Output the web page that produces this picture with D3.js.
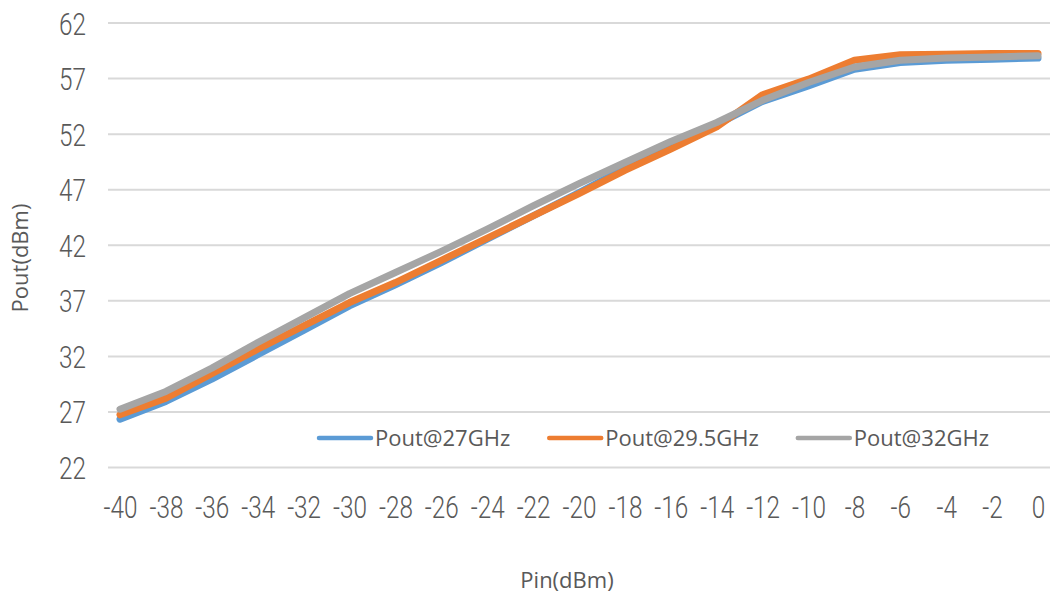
<!DOCTYPE html>
<html>
<head>
<meta charset="utf-8">
<script src="https://cdn.jsdelivr.net/npm/d3@7/dist/d3.min.js"></script>
<style>
  html, body { margin: 0; padding: 0; background: #ffffff; }
  svg { display: block; }
</style>
</head>
<body>
<svg id="chart" width="1052" height="596"></svg>
<script>
// Input power sweep (dBm)
const pinValues = [-40, -38, -36, -34, -32, -30, -28, -26, -24, -22, -20, -18, -16, -14, -12, -10, -8, -6, -4, -2, 0];

// Output power (dBm) at each frequency
const pout27 = [26.3, 27.9, 29.9, 32.1, 34.3, 36.5, 38.4, 40.4, 42.5, 44.6, 46.7, 48.9, 50.9, 52.8, 54.9, 56.3, 57.8, 58.4, 58.6, 58.7, 58.8];
const pout295 = [26.7, 28.2, 30.4, 32.6, 34.7, 36.8, 38.6, 40.6, 42.6, 44.6, 46.6, 48.7, 50.6, 52.6, 55.5, 56.9, 58.6, 59.1, 59.15, 59.2, 59.2];
const pout32 = [27.2, 28.8, 30.9, 33.2, 35.4, 37.6, 39.5, 41.4, 43.4, 45.5, 47.5, 49.4, 51.3, 53.0, 55.0, 56.6, 58.0, 58.6, 58.8, 58.9, 59.0];

const yTicks = [22, 27, 32, 37, 42, 47, 52, 57, 62];
const seriesNames = ["Pout@27GHz", "Pout@29.5GHz", "Pout@32GHz"];
const seriesColors = ["#5B9BD5", "#ED7D31", "#A5A5A5"];

const svg = d3.select("#chart");
const plotLeft = 108, plotRight = 1050;
const tickFont = "Roboto, 'Liberation Sans', Arial, sans-serif";
const narrow = 0.76;  // horizontal squeeze for the condensed tick numerals

const x = d3.scalePoint().domain(pinValues).range([120, 1038]);
const y = d3.scaleLinear().domain([22, 62]).range([467, 22.5]);

// Horizontal gridlines + value labels
const gy = svg.append("g")
  .attr("transform", `translate(${plotLeft},0)`)
  .call(d3.axisLeft(y).tickValues(yTicks).tickSize(-(plotRight - plotLeft)).tickFormat(d3.format("d")));
gy.select(".domain").remove();
gy.selectAll(".tick line").attr("stroke", "#d9d9d9").attr("stroke-width", 2);
gy.selectAll(".tick text")
  .attr("x", -22 / narrow)
  .attr("dy", "0.36em")
  .attr("transform", `scale(${narrow},1)`)
  .attr("fill", "#595959")
  .style("font-family", tickFont)
  .style("font-weight", 300)
  .style("font-size", "32px");

// Category labels along the bottom
const gx = svg.append("g")
  .attr("transform", `translate(0,467)`)
  .call(d3.axisBottom(x).tickSize(0).tickFormat(d => String(d)));
gx.select(".domain").remove();
gx.selectAll(".tick text")
  .attr("x", 0)
  .attr("y", 51)
  .attr("dy", 0)
  .attr("text-anchor", "middle")
  .attr("transform", `scale(${narrow},1)`)
  .attr("fill", "#595959")
  .style("font-family", tickFont)
  .style("font-weight", 300)
  .style("font-size", "32px");

// Series lines
const seriesData = [pout27, pout295, pout32];
const line = d3.line()
  .x((d, i) => x(pinValues[i]))
  .y(d => y(d));

svg.append("g").selectAll("path")
  .data(seriesData)
  .join("path")
  .attr("d", d => line(d))
  .attr("fill", "none")
  .attr("stroke", (d, i) => seriesColors[i])
  .attr("stroke-width", 7)
  .attr("stroke-linejoin", "round")
  .attr("stroke-linecap", "round");

// Legend
const legend = svg.append("g").attr("transform", "translate(317,438)");
let lx = 0;
seriesNames.forEach((name, i) => {
  const item = legend.append("g").attr("transform", `translate(${lx},0)`);
  item.append("line")
    .attr("x1", 2).attr("x2", 54).attr("y1", 0).attr("y2", 0)
    .attr("stroke", seriesColors[i]).attr("stroke-width", 4.5).attr("stroke-linecap", "round");
  const t = item.append("text")
    .attr("x", 58).attr("y", 0).attr("dy", "0.35em")
    .attr("fill", "#595959")
    .style("font-family", "'Open Sans', sans-serif")
    .style("font-size", "22px")
    .text(name);
  lx += 58 + t.node().getComputedTextLength() + 37;
});

// Axis titles
svg.append("text")
  .attr("x", 567).attr("y", 588)
  .attr("text-anchor", "middle")
  .attr("fill", "#595959")
  .style("font-family", "'Open Sans', sans-serif")
  .style("font-size", "22px")
  .text("Pin(dBm)");

svg.append("text")
  .attr("transform", "translate(28,258) rotate(-90)")
  .attr("text-anchor", "middle")
  .attr("fill", "#595959")
  .style("font-family", "'Open Sans', sans-serif")
  .style("font-size", "22px")
  .text("Pout(dBm)");
</script>
</body>
</html>
